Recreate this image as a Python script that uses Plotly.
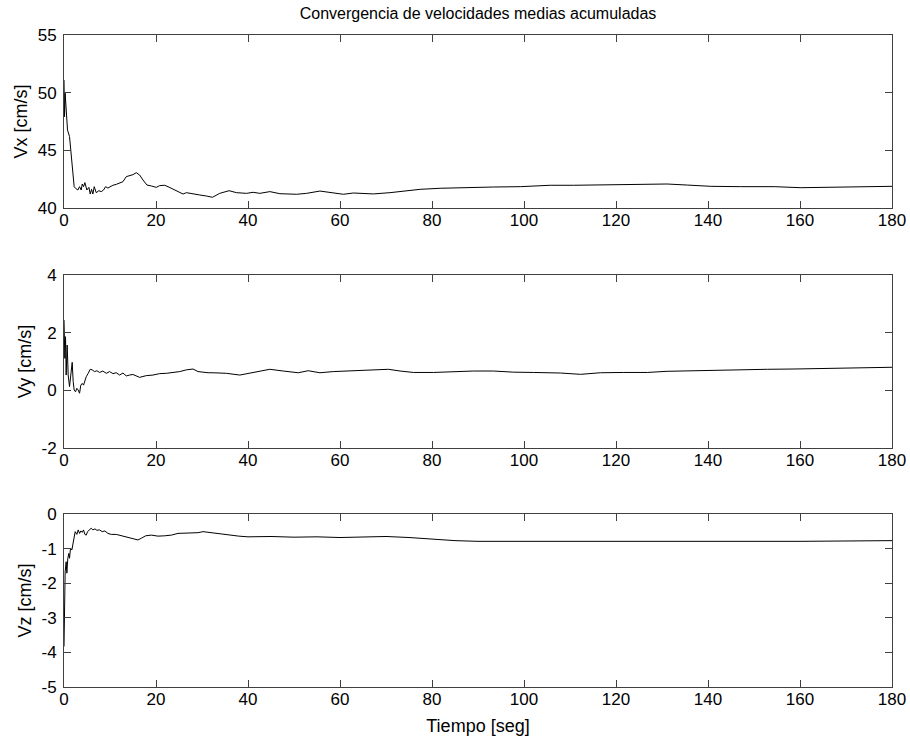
import plotly.graph_objects as go

title_text = "Convergencia de velocidades medias acumuladas"
x_title = "Tiempo [seg]"
y_titles = ["Vx [cm/s]", "Vy [cm/s]", "Vz [cm/s]"]

x_ticks = [0, 20, 40, 60, 80, 100, 120, 140, 160, 180]
vx_ticks = [40, 45, 50, 55]
vy_ticks = [-2, 0, 2, 4]
vz_ticks = [-5, -4, -3, -2, -1, 0]

t_vx = [0, 0.11, 0.25, 0.47, 0.76, 1.20, 1.56, 1.92, 2.21, 2.50, 3.01, 3.38, 3.74, 3.96, 4.25,
        4.54, 4.97, 5.41, 5.70, 5.99, 6.28, 6.57, 7.01, 7.58, 8.09, 8.60, 9.04, 9.54, 10.05,
        10.63, 11.36, 12.09, 12.81, 13.54, 14.26, 14.99, 15.72, 16.44, 17.17, 18.04, 18.98,
        20.07, 20.80, 21.89, 22.61, 23.70, 24.79, 25.88, 26.60, 27.33, 28.42, 29.51, 30.96,
        32.27, 33.86, 35.89, 37.49, 39.67, 41.12, 42.57, 44.75, 46.93, 50.56, 52.74, 55.64,
        58.18, 60.72, 62.90, 67.25, 70.88, 74.51, 77.42, 81.77, 87.58, 93.39, 99.19, 102.1,
        105.7, 110.8, 119.5, 125.3, 131.1, 135.5, 140.6, 147.1, 154.4, 160.2, 165.2, 172.5, 180]
vx = [51.10, 47.92, 49.95, 48.79, 46.77, 46.19, 44.74, 43.30, 41.85, 41.71, 41.56, 41.85, 41.56,
      42.08, 41.85, 42.20, 41.56, 41.79, 41.21, 41.62, 41.21, 41.85, 41.33, 41.50, 41.42, 41.56,
      41.85, 41.73, 41.85, 41.97, 42.05, 42.20, 42.28, 42.72, 42.78, 42.89, 43.06, 42.86, 42.43,
      41.99, 41.91, 41.79, 41.94, 41.97, 41.85, 41.62, 41.42, 41.21, 41.33, 41.27, 41.21, 41.13,
      41.04, 40.93, 41.27, 41.50, 41.33, 41.27, 41.36, 41.27, 41.42, 41.24, 41.19, 41.27, 41.47,
      41.33, 41.19, 41.30, 41.22, 41.33, 41.50, 41.62, 41.71, 41.79, 41.82, 41.85, 41.91, 41.97,
      41.97, 41.99, 42.02, 42.08, 41.99, 41.88, 41.85, 41.85, 41.76, 41.79, 41.85, 41.88]

t_vy = [0, 0.18, 0.33, 0.47, 0.69, 0.91, 1.20, 1.49, 1.78, 2.00, 2.21, 2.50, 2.79, 3.09, 3.38,
        3.66, 3.96, 4.25, 4.54, 4.83, 5.26, 5.70, 6.13, 6.64, 7.15, 7.73, 8.46, 9.18, 9.91,
        10.63, 11.36, 12.09, 12.81, 13.54, 14.26, 14.99, 16.44, 17.89, 19.34, 20.80, 22.25,
        23.70, 25.15, 26.60, 28.05, 29.14, 30.23, 31.32, 32.41, 35.31, 38.22, 41.12, 44.75,
        47.65, 50.92, 53.10, 55.64, 58.54, 62.90, 67.25, 70.52, 73.06, 75.96, 80.32, 84.67,
        89.03, 93.39, 97.74, 102.1, 105.7, 107.9, 112.3, 116.6, 121.7, 126.8, 131.1, 136.2,
        141.3, 147.1, 152.9, 158.7, 164.5, 170.3, 176.1, 180]
vy = [2.44, 1.11, 1.86, 0.53, 1.57, 0.53, 0.13, 0.53, 0.97, 0.30, 0.01, -0.05, 0.07, 0.01, -0.10,
      0.18, 0.24, 0.18, 0.36, 0.47, 0.59, 0.73, 0.71, 0.65, 0.68, 0.62, 0.67, 0.59, 0.65, 0.58,
      0.61, 0.53, 0.60, 0.50, 0.53, 0.55, 0.45, 0.51, 0.53, 0.58, 0.59, 0.62, 0.65, 0.71, 0.74,
      0.65, 0.62, 0.61, 0.61, 0.59, 0.53, 0.61, 0.73, 0.67, 0.61, 0.68, 0.61, 0.65, 0.68, 0.70,
      0.73, 0.67, 0.62, 0.62, 0.65, 0.67, 0.67, 0.63, 0.62, 0.61, 0.60, 0.555, 0.61, 0.62, 0.62,
      0.66, 0.68, 0.68, 0.70, 0.73, 0.74, 0.75, 0.76, 0.79, 0.80]

t_vz = [0, 0.11, 0.25, 0.47, 0.62, 0.83, 1.05, 1.20, 1.42, 1.71, 1.92, 2.21, 2.43, 2.79, 3.09,
        3.38, 3.66, 3.96, 4.25, 4.54, 4.83, 5.12, 5.55, 5.92, 6.28, 6.72, 7.15, 7.73, 8.31, 8.89,
        9.54, 10.27, 11.36, 12.45, 13.54, 14.63, 15.36, 16.08, 16.81, 17.75, 18.98, 20.43, 21.89,
        23.34, 24.79, 26.24, 27.69, 29.14, 30.23, 31.32, 35, 38, 40, 45, 50, 55, 60, 65, 70, 75,
        80, 85, 90, 100, 110, 120, 130, 140, 150, 160, 170, 180]
vz = [-3.83, -2.63, -1.67, -1.38, -1.71, -1.28, -1.14, -1.28, -0.99, -1.04, -0.90, -0.61, -0.51,
      -0.59, -0.46, -0.56, -0.49, -0.53, -0.46, -0.59, -0.61, -0.51, -0.46, -0.41, -0.46, -0.43,
      -0.47, -0.46, -0.51, -0.49, -0.56, -0.59, -0.59, -0.63, -0.66, -0.70, -0.72, -0.75, -0.70,
      -0.63, -0.61, -0.64, -0.63, -0.61, -0.56, -0.56, -0.54, -0.54, -0.51, -0.53, -0.60, -0.64,
      -0.66, -0.65, -0.67, -0.66, -0.68, -0.66, -0.65, -0.68, -0.73, -0.77, -0.79, -0.79, -0.80,
      -0.81, -0.80, -0.80, -0.79, -0.79, -0.78, -0.77]

FONT = "Liberation Sans, Arial, sans-serif"
AX_COLOR = "#404040"
TICK_SIZE = 17
LABEL_SIZE = 18
TITLE_SIZE = 16

fig = go.Figure()
series = [(t_vx, vx, "x", "y"), (t_vy, vy, "x2", "y2"), (t_vz, vz, "x3", "y3")]
for t, v, xa, ya in series:
    fig.add_trace(go.Scatter(x=t, y=v, mode="lines", xaxis=xa, yaxis=ya,
                             line=dict(color="black", width=1), showlegend=False,
                             hoverinfo="skip"))

H = 652.0
domains = [[(687 - 208) / H, 1.0], [(687 - 448) / H, (687 - 275) / H], [0.0, (687 - 514) / H]]
yranges = [[40, 55], [-2, 4], [-5, 0]]
yticks = [vx_ticks, vy_ticks, vz_ticks]

common = dict(showline=True, linecolor=AX_COLOR, linewidth=1, mirror="ticks",
              ticks="inside", ticklen=7, tickcolor=AX_COLOR, tickwidth=1,
              showgrid=False, zeroline=False,
              tickfont=dict(family=FONT, size=TICK_SIZE, color="black"))

layout = dict(
    width=910, height=738,
    margin=dict(l=64, r=18, t=35, b=51, autoexpand=False),
    paper_bgcolor="white", plot_bgcolor="white",
    title=dict(text=title_text, x=(64 + 892) / 2 / 910, xanchor="center",
               y=1 - 13 / 738, yanchor="middle",
               font=dict(family=FONT, size=TITLE_SIZE, color="black")),
)
for i in range(3):
    sx = "" if i == 0 else str(i + 1)
    xa = dict(common, range=[0, 180], tickvals=x_ticks, anchor="y" + sx,
              ticktext=[str(v) for v in x_ticks],
              domain=[0, 1], ticklabelstandoff=-3)
    if i == 2:
        xa["title"] = dict(text=x_title, font=dict(family=FONT, size=LABEL_SIZE, color="black"),
                           standoff=10)
    ya = dict(common, range=yranges[i], tickvals=yticks[i], anchor="x" + sx,
              ticktext=[str(v) for v in yticks[i]],
              domain=domains[i], ticklabelstandoff=3,
              title=dict(text=y_titles[i], font=dict(family=FONT, size=LABEL_SIZE, color="black"),
                         standoff=5))
    layout["xaxis" + sx] = xa
    layout["yaxis" + sx] = ya

fig.update_layout(**layout)
fig.write_html("out.html", config={"displayModeBar": False},
               post_script="document.body.style.margin='0px';")
